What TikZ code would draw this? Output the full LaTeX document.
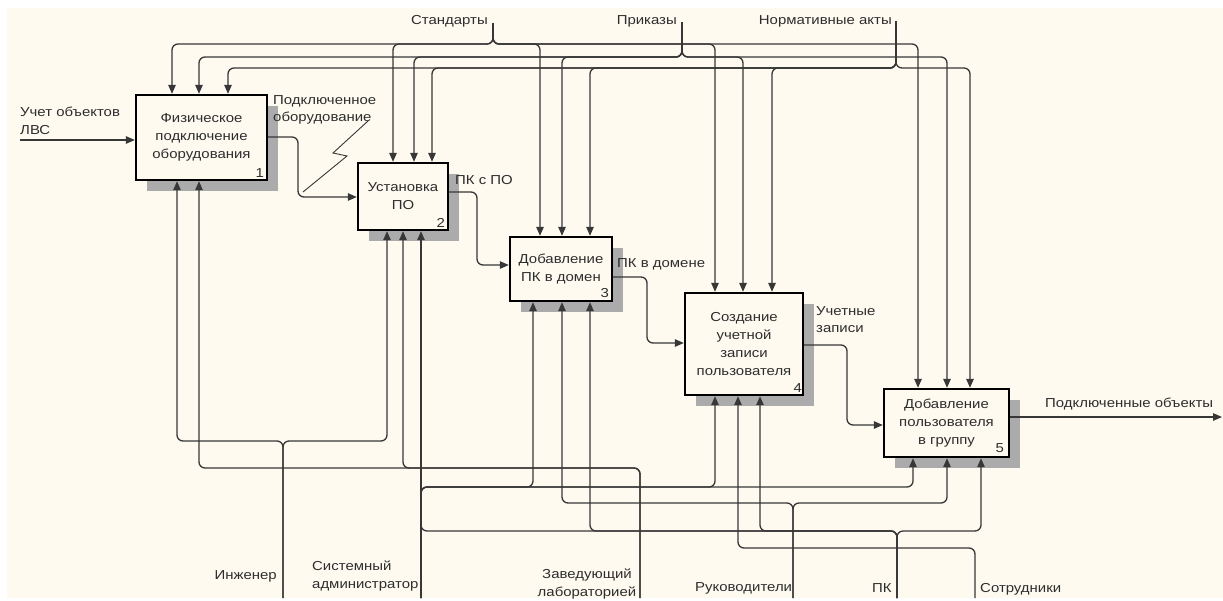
\documentclass[tikz,border=0pt]{standalone}
\usepackage{fontspec}
\setmainfont{Liberation Sans}[FakeStretch=1.15]
\usetikzlibrary{arrows.meta,shadows}
\definecolor{bgc}{RGB}{254,250,240}
\definecolor{lnc}{RGB}{55,55,55}
\definecolor{txc}{RGB}{45,45,45}
\begin{document}
\begin{tikzpicture}[x=1pt,y=-1pt,
  fnt/.style={font=\fontsize{13pt}{18pt}\selectfont},
  box/.style={draw=black, line width=2.4pt, fill=bgc, inner sep=0pt, align=center, fnt, text=txc,
    drop shadow={shadow xshift=11pt, shadow yshift=-11pt, fill=black!33, opacity=1}},
  num/.style={fnt, text=txc, inner sep=0pt, anchor=south east},
  con/.style={draw=lnc, line width=1.3pt, rounded corners=6pt},
  arr/.style={con, -{Triangle[length=9pt,width=7.5pt]}},
  lbl/.style={fnt, text=txc, inner sep=0pt, align=left},
  zig/.style={draw=lnc, line width=0.9pt}
]
\useasboundingbox (0,0) rectangle (1223,600);
\fill[white] (0,0) rectangle (1223,600);
\fill[bgc] (7,8) rectangle (1223,598);

% activity boxes
\node[box, minimum width=131pt, minimum height=85pt] (b1) at (201.5,137.5) {Физическое\\подключение\\оборудования};
\node[box, minimum width=90pt, minimum height=67pt] (b2) at (403,196.5) {Установка\\ПО};
\node[box, minimum width=102pt, minimum height=64pt] (b3) at (561,269) {Добавление\\ПК в домен};
\node[box, minimum width=118pt, minimum height=102pt] (b4) at (744,344) {Создание\\учетной\\записи\\пользователя};
\node[box, minimum width=125pt, minimum height=68pt] (b5) at (946.5,423) {Добавление\\пользователя\\в группу};
\node[num] (n1) at ([xshift=-4pt,yshift=4pt]b1.south east) {1};
\node[num] (n2) at ([xshift=-4pt,yshift=4pt]b2.south east) {2};
\node[num] (n3) at ([xshift=-4pt,yshift=4pt]b3.south east) {3};
\node[num] (n4) at ([xshift=-2pt,yshift=4pt]b4.south east) {4};
\node[num] (n5) at ([xshift=-6pt,yshift=5pt]b5.south east) {5};

% control sources
\coordinate (cS) at (493,23);
\coordinate (cP) at (682,22);
\coordinate (cN) at (896,21);
\node[lbl, anchor=base east] (tS) at (488,24.5) {Стандарты};
\node[lbl, anchor=base east] (tP) at (677,24.5) {Приказы};
\node[lbl, anchor=base east] (tN) at (892,24.5) {Нормативные акты};

\foreach \x/\b in {172/b1,393/b2,540/b3,715/b4,918/b5}
  \draw[arr] (cS) -- (493,44) -- (\x,44) -- (\b.north -| \x,0);
\foreach \x/\b in {199/b1,414/b2,562/b3,743/b4,947/b5}
  \draw[arr] (cP) -- (682,57) -- (\x,57) -- (\b.north -| \x,0);
\foreach \x/\b in {228/b1,432/b2,590/b3,772/b4,970/b5}
  \draw[arr] (cN) -- (896,68) -- (\x,68) -- (\b.north -| \x,0);

% mechanism sources
\coordinate (mI) at (283,598);
\coordinate (mSA) at (421,598);
\coordinate (mZ) at (640,598);
\coordinate (mR) at (793,598);
\coordinate (mPK) at (897,598);
\coordinate (mC) at (975,598);
\coordinate (jPK) at (421,516);
\node[lbl, anchor=base east] (tI) at (277,579.5) {Инженер};
\node[lbl, anchor=north west] (tSA) at (312,561) {Системный\\администратор};
\node[lbl, anchor=north, align=center] (tZ) at (587,569) {Заведующий\\лабораторией};
\node[lbl, anchor=base west] (tR) at (695,591) {Руководители};
\node[lbl, anchor=base west] (tPK) at (872,592) {ПК};
\node[lbl, anchor=base west] (tC) at (980,592) {Сотрудники};

\foreach \x/\b in {177/b1,387/b2}
  \draw[arr] (mI) -- (283,441) -- (\x,441) -- (\b.south -| \x,0);
\foreach \x/\b in {199/b1,403/b2}
  \draw[arr] (mZ) -- (640,468) -- (\x,468) -- (\b.south -| \x,0);
\draw[arr] (mSA) -- (b2.south -| 421,0);
\foreach \x/\b in {533/b3,715/b4,913/b5}
  \draw[arr] (mSA) -- (421,487) -- (\x,487) -- (\b.south -| \x,0);
\foreach \x/\b in {562/b3,947/b5}
  \draw[arr] (mR) -- (793,503) -- (\x,503) -- (\b.south -| \x,0);
\foreach \x/\b in {590/b3,760/b4,981/b5}
  \draw[arr] (mPK) -- (897,531) -- (\x,531) -- (\b.south -| \x,0);
\draw[con] (mPK) -- (897,531) -- (421,531) -- (jPK);
\draw[arr] (mC) -- (975,548) -- (738,548) -- (b4.south -| 738,0);

% input / outputs
\coordinate (inL) at (20,140);
\coordinate (outR) at (1222,417);
\node[lbl, anchor=north west] (tIn) at (20,107) {Учет объектов\\ЛВС};
\draw[arr] (inL) -- (b1.west |- 0,140);
\draw[arr] (b1.east |- 0,137) -- (298,137) -- (298,197) -- (b2.west |- 0,197);
\draw[arr] (b2.east |- 0,192) -- (477,192) -- (477,265) -- (b3.west |- 0,265);
\draw[arr] (b3.east |- 0,277) -- (647,277) -- (647,343) -- (b4.west |- 0,343);
\draw[arr] (b4.east |- 0,345) -- (847,345) -- (847,425) -- (b5.west |- 0,425);
\draw[arr] (b5.east |- 0,417) -- (outR);

\node[lbl, anchor=north west, font=\fontsize{13pt}{17pt}\selectfont] (tO1) at (273,95) {Подключенное\\оборудование};
\draw[zig] (368,121) -- (333,153) -- (347,156) -- (303,192);
\node[lbl, anchor=base west] (tO2) at (455,184.5) {ПК с ПО};
\node[lbl, anchor=base west] (tO3) at (617,267.5) {ПК в домене};
\node[lbl, anchor=north west, font=\fontsize{13pt}{17pt}\selectfont] (tO4) at (816,306) {Учетные\\записи};
\node[lbl, anchor=base west] (tO5) at (1045,407.5) {Подключенные объекты};
\end{tikzpicture}
\end{document}
